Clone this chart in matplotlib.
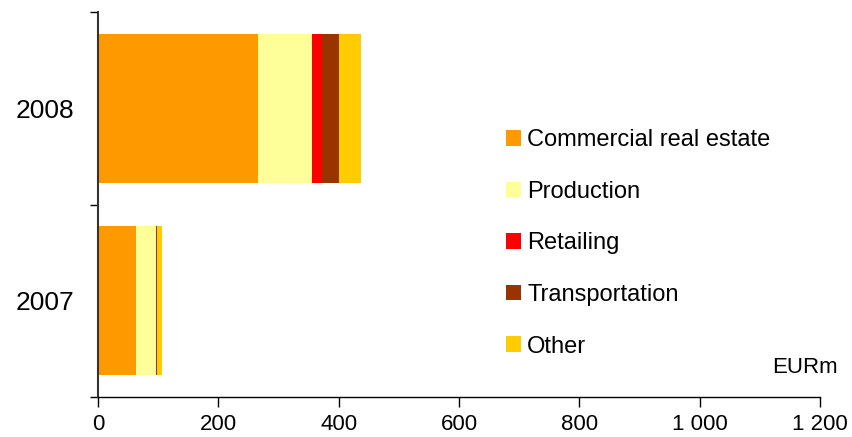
import numpy as np
import matplotlib.pyplot as plt
from matplotlib.ticker import FixedLocator

plt.rcParams['font.family'] = ['Liberation Sans', 'DejaVu Sans']

# Data (EURm)
years = ['2007', '2008']
sectors = ['Commercial real estate', 'Production', 'Retailing', 'Transportation', 'Other']
commercial = [63, 266]
production = [33, 89]
retailing = [0.5, 18]
transportation = [1.5, 27]
other = [8, 37]
colors = ['#FF9900', '#FFFF99', '#FF0000', '#993300', '#FFCC00']
x_ticks = [0, 200, 400, 600, 800, 1000, 1200]
x_labels = ['0', '200', '400', '600', '800', '1 000', '1 200']

W, H = 852, 437
fig = plt.figure(figsize=(W / 100, H / 100), dpi=100)
ax = fig.add_axes([98 / W, 1 - 397 / H, (820 - 98) / W, (397 - 12) / H])

pos = np.arange(len(years))
left = np.zeros(len(years))
handles = []
for vals, name, col in zip([commercial, production, retailing, transportation, other], sectors, colors):
    b = ax.barh(pos, vals, left=left, height=0.775, color=col, label=name)
    handles.append(b)
    left += np.array(vals)

ax.set_xlim(0, 1200)
ax.set_ylim(-0.5, 1.5)
ax.set_xticks(x_ticks)
ax.set_xticklabels(x_labels, fontsize=16)
ax.tick_params(axis='x', direction='out', length=7, width=1, pad=5)

ax.yaxis.set_major_locator(FixedLocator([-0.5, 0.5, 1.5]))
ax.yaxis.set_major_formatter(plt.NullFormatter())
ax.yaxis.set_minor_locator(FixedLocator(pos))
ax.set_yticklabels(years, minor=True, fontsize=19)
ax.tick_params(axis='y', which='major', direction='out', length=6, width=1)
ax.tick_params(axis='y', which='minor', length=0, pad=17)

for s in ['top', 'right']:
    ax.spines[s].set_visible(False)
ax.spines['left'].set_linewidth(1.5)
ax.spines['left'].set_color('#333333')
ax.spines['bottom'].set_linewidth(1)

fig.legend(handles=handles, loc='upper left',
           bbox_to_anchor=(506 / W, 1 - 129 / H), bbox_transform=fig.transFigure,
           frameon=False, fontsize=17, handlelength=0.64, handleheight=0.64,
           handletextpad=0.25, labelspacing=1.255, borderpad=0, borderaxespad=0)

fig.text(838 / W, 1 - 373 / H, 'EURm', ha='right', va='baseline', fontsize=16)

fig.savefig('out.png', dpi=100)
